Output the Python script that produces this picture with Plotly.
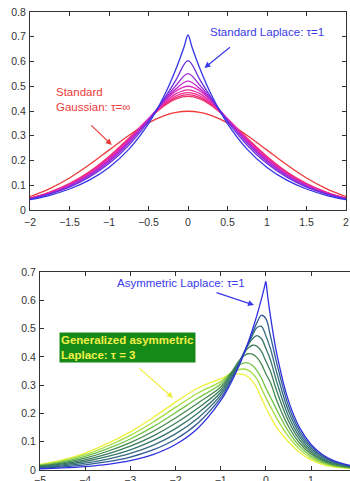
import plotly.graph_objects as go

# ---------------- top panel data (symmetric family, tau = 1 ... 3, inf) ----------------
x_top = [-2, -1.75, -1.5, -1.25, -1, -0.75, -0.5, -0.3, -0.15, 0, 0.15, 0.3, 0.5, 0.75, 1, 1.25, 1.5, 1.75, 2]
x_lap = [-2, -1.75, -1.5, -1.25, -1, -0.75, -0.5, -0.3, -0.15, -0.05, 0, 0.05, 0.15, 0.3, 0.5, 0.75, 1, 1.25, 1.5, 1.75, 2]
y_lap = [0.0418, 0.0595, 0.0848, 0.1207, 0.1719, 0.2448, 0.3487, 0.4626, 0.572, 0.6588, 0.7071, 0.6588, 0.572, 0.4626, 0.3487, 0.2448, 0.1719, 0.1207, 0.0848, 0.0595, 0.0418]
y_t125 = [0.0438, 0.0638, 0.0922, 0.1322, 0.1875, 0.2619, 0.3583, 0.4508, 0.5268, 0.6035, 0.5268, 0.4508, 0.3583, 0.2619, 0.1875, 0.1322, 0.0922, 0.0638, 0.0438]
y_t150 = [0.0448, 0.0659, 0.0960, 0.1380, 0.1954, 0.2705, 0.3632, 0.4448, 0.5038, 0.551, 0.5038, 0.4448, 0.3632, 0.2705, 0.1954, 0.1380, 0.0960, 0.0659, 0.0448]
y_t175 = [0.0454, 0.0672, 0.0981, 0.1414, 0.1999, 0.2755, 0.3660, 0.4413, 0.4904, 0.5205, 0.4904, 0.4413, 0.3660, 0.2755, 0.1999, 0.1414, 0.0981, 0.0672, 0.0454]
y_t200 = [0.0458, 0.0680, 0.0996, 0.1437, 0.2030, 0.2789, 0.3679, 0.4390, 0.4815, 0.5000, 0.4815, 0.4390, 0.3679, 0.2789, 0.2030, 0.1437, 0.0996, 0.0680, 0.0458]
y_t225 = [0.0464, 0.0695, 0.1022, 0.1475, 0.2077, 0.2828, 0.3678, 0.4328, 0.4701, 0.4854, 0.4701, 0.4328, 0.3678, 0.2828, 0.2077, 0.1475, 0.1022, 0.0695, 0.0464]
y_t250 = [0.0469, 0.0705, 0.1041, 0.1503, 0.2112, 0.2857, 0.3678, 0.4282, 0.4615, 0.4745, 0.4615, 0.4282, 0.3678, 0.2857, 0.2112, 0.1503, 0.1041, 0.0705, 0.0469]
y_t275 = [0.0473, 0.0714, 0.1056, 0.1526, 0.2139, 0.2879, 0.3677, 0.4247, 0.4548, 0.4660, 0.4548, 0.4247, 0.3677, 0.2879, 0.2139, 0.1526, 0.1056, 0.0714, 0.0473]
y_t300 = [0.0476, 0.0721, 0.1069, 0.1544, 0.2162, 0.2898, 0.3677, 0.4217, 0.4493, 0.4590, 0.4493, 0.4217, 0.3677, 0.2898, 0.2162, 0.1544, 0.1069, 0.0721, 0.0476]
y_gauss = [0.0540, 0.0863, 0.1295, 0.1826, 0.2420, 0.3011, 0.3521, 0.3814, 0.3945, 0.3989, 0.3945, 0.3814, 0.3521, 0.3011, 0.2420, 0.1826, 0.1295, 0.0863, 0.0540]

top_series = [y_t125, y_t150, y_t175, y_t200, y_t225, y_t250, y_t275, y_t300]
top_colors = ["#6a2ee0", "#9a2ad8", "#c02acc", "#d82abc", "#e42aa8", "#ec2c92", "#f02e7a", "#f03266"]

# ---------------- bottom panel data (asymmetric family, tau = 1 ... 3) ----------------
x_bot = [-5, -4.5, -4, -3.5, -3, -2.5, -2, -1.5, -1, -0.8, -0.6, -0.5, -0.4, -0.3, -0.2, -0.1, 0, 0.1, 0.25, 0.5, 0.75, 1, 1.25, 1.5, 1.87]
x_blue = [-5, -4.5, -4, -3.5, -3, -2.5, -2, -1.5, -1, -0.8, -0.6, -0.5, -0.4, -0.3, -0.2, -0.1, -0.03, 0, 0.03, 0.1, 0.25, 0.5, 0.75, 1, 1.25, 1.5, 1.87]
y_blue = [0.0045, 0.0074, 0.0122, 0.0201, 0.0332, 0.0547, 0.0902, 0.1488, 0.2453, 0.2996, 0.3659, 0.4043, 0.4469, 0.4939, 0.5458, 0.6032, 0.647, 0.6667, 0.6279, 0.5458, 0.4043, 0.2453, 0.1488, 0.0902, 0.0547, 0.0332, 0.0158]
y_a125 = [0.0064, 0.011, 0.0182, 0.0293, 0.0459, 0.071, 0.1089, 0.1665, 0.2549, 0.307, 0.372, 0.41, 0.445, 0.482, 0.52, 0.547, 0.535, 0.475, 0.3719, 0.2272, 0.138, 0.0834, 0.0504, 0.0304, 0.0145]
y_a150 = [0.0084, 0.0146, 0.0242, 0.0386, 0.0587, 0.0873, 0.1277, 0.1841, 0.2645, 0.315, 0.375, 0.41, 0.443, 0.475, 0.503, 0.508, 0.475, 0.43, 0.3395, 0.2091, 0.1271, 0.0766, 0.046, 0.0277, 0.0131]
y_a175 = [0.0103, 0.0181, 0.0301, 0.0478, 0.0714, 0.1036, 0.1464, 0.2018, 0.2741, 0.322, 0.378, 0.41, 0.44, 0.463, 0.475, 0.465, 0.43, 0.39, 0.3072, 0.191, 0.1163, 0.0699, 0.0417, 0.0249, 0.0118]
y_a200 = [0.0123, 0.0217, 0.0361, 0.0571, 0.0841, 0.1199, 0.1651, 0.2194, 0.2837, 0.33, 0.38, 0.408, 0.43, 0.441, 0.438, 0.42, 0.385, 0.35, 0.2748, 0.1729, 0.1054, 0.0631, 0.0373, 0.0221, 0.0104]
y_a225 = [0.0142, 0.0253, 0.0421, 0.0663, 0.0968, 0.1361, 0.1839, 0.2371, 0.2932, 0.335, 0.385, 0.402, 0.411, 0.41, 0.398, 0.375, 0.34, 0.31, 0.2424, 0.1548, 0.0946, 0.0563, 0.033, 0.0193, 0.0091]
y_a250 = [0.0161, 0.0289, 0.0481, 0.0755, 0.1096, 0.1524, 0.2026, 0.2547, 0.3028, 0.34, 0.37, 0.378, 0.379, 0.37, 0.352, 0.325, 0.29, 0.258, 0.21, 0.1367, 0.0837, 0.0495, 0.0287, 0.0165, 0.0077]
y_a275 = [0.0181, 0.0324, 0.054, 0.0848, 0.1223, 0.1687, 0.2213, 0.2724, 0.3124, 0.34, 0.355, 0.357, 0.353, 0.342, 0.322, 0.29, 0.255, 0.225, 0.18, 0.1186, 0.0729, 0.0428, 0.0243, 0.0138, 0.0064]
y_a300 = [0.02, 0.036, 0.06, 0.094, 0.135, 0.185, 0.24, 0.29, 0.322, 0.336, 0.34, 0.338, 0.33, 0.315, 0.29, 0.255, 0.22, 0.19, 0.148, 0.1, 0.062, 0.036, 0.02, 0.011, 0.005]

bot_series = [y_a125, y_a150, y_a175, y_a200, y_a225, y_a250, y_a275, y_a300]
bot_colors = ["#2e5c94", "#356c80", "#37766c", "#3b7c5c", "#468a50", "#72c446", "#a2dc40", "#eef03c"]

top_xticks = [-2, -1.5, -1, -0.5, 0, 0.5, 1, 1.5, 2]
top_xlabels = ["−2", "−1.5", "−1", "−0.5", "0", "0.5", "1", "1.5", "2"]
top_yticks = [0, 0.1, 0.2, 0.3, 0.4, 0.5, 0.6, 0.7, 0.8]
bot_xticks = [-5, -4, -3, -2, -1, 0, 1]
bot_yticks = [0, 0.1, 0.2, 0.3, 0.4, 0.5, 0.6, 0.7]

W, H = 350, 481
fig = go.Figure()
LW = 1.3

# top panel: Gaussian first, Laplace last (on top)
fig.add_trace(go.Scatter(x=x_top, y=y_gauss, mode="lines", line=dict(color="#ec3a3a", width=LW, shape="spline"), xaxis="x", yaxis="y"))
for ys, c in reversed(list(zip(top_series, top_colors))):
    fig.add_trace(go.Scatter(x=x_top, y=ys, mode="lines", line=dict(color=c, width=LW, shape="spline"), xaxis="x", yaxis="y"))
fig.add_trace(go.Scatter(x=x_lap, y=y_lap, mode="lines", line=dict(color="#3434e6", width=LW, shape="spline"), xaxis="x", yaxis="y"))

# bottom panel: yellow first, blue last
for ys, c in reversed(list(zip(bot_series, bot_colors))):
    fig.add_trace(go.Scatter(x=x_bot, y=ys, mode="lines", line=dict(color=c, width=LW, shape="spline"), xaxis="x2", yaxis="y2"))
fig.add_trace(go.Scatter(x=x_blue, y=y_blue, mode="lines", line=dict(color="#3030e0", width=LW, shape="spline"), xaxis="x2", yaxis="y2"))

axfont = dict(family="Liberation Sans, Arial, sans-serif", size=10.5, color="#333333")
common = dict(showgrid=False, zeroline=False, showline=True, linecolor="#333333", linewidth=1,
              ticks="inside", ticklen=4, tickcolor="#333333", tickfont=axfont, fixedrange=True)

fig.update_layout(
    width=W, height=H, margin=dict(l=0, r=0, t=0, b=0),
    paper_bgcolor="white", plot_bgcolor="white", showlegend=False,
    font=dict(family="Liberation Sans, Arial, sans-serif"),
    xaxis=dict(domain=[30 / W, 346 / W], range=[-2, 2], tickvals=top_xticks, ticktext=top_xlabels, anchor="y",
               mirror="allticks", automargin=False, ticklabelstandoff=2, **common),
    yaxis=dict(domain=[1 - 210 / H, 1 - 12 / H], range=[0, 0.8], tickvals=top_yticks, anchor="x",
               mirror="allticks", automargin=False, ticklabelstandoff=1, **common),
    xaxis2=dict(domain=[40 / W, 1], range=[-5, 1.863], tickvals=bot_xticks, anchor="y2",
                mirror="allticks", automargin=False, ticklabelstandoff=0, **common),
    yaxis2=dict(domain=[1 - 470 / H, 1 - 272 / H], range=[0, 0.7], tickvals=bot_yticks, anchor="x2",
                mirror=False, automargin=False, ticklabelstandoff=1, **common),
)

afont = dict(family="Liberation Sans, Arial, sans-serif", size=11.5)
ann = []
# top panel
ann.append(dict(xref="x", yref="y", x=0.259, y=0.719, text="Standard Laplace: τ=1", showarrow=False,
                xanchor="left", yanchor="middle", font=dict(color="#3a3ae8", **afont)))
ann.append(dict(xref="x", yref="y", x=0.208, y=0.574, ax=27, ay=-22, text="", showarrow=True,
                arrowhead=2, arrowsize=1, arrowwidth=1.2, arrowcolor="#3a3ae8"))
ann.append(dict(xref="x", yref="y", x=-1.70, y=0.448, text="Standard<br>Gaussian: τ=∞", showarrow=False,
                xanchor="left", yanchor="middle", align="left", font=dict(color="#ec3a3a", **afont)))
ann.append(dict(xref="x", yref="y", x=-0.965, y=0.263, ax=-22, ay=-21, text="", showarrow=True,
                arrowhead=2, arrowsize=1, arrowwidth=1.2, arrowcolor="#ec3a3a"))
# bottom panel
ann.append(dict(xref="x2", yref="y2", x=-3.33, y=0.661, text="Asymmetric Laplace: τ=1", showarrow=False,
                xanchor="left", yanchor="middle", font=dict(color="#3a3ae8", **afont)))
ann.append(dict(xref="x2", yref="y2", x=-0.262, y=0.583, ax=-39, ay=-13, text="", showarrow=True,
                arrowhead=2, arrowsize=1, arrowwidth=1.2, arrowcolor="#3a3ae8"))
ann.append(dict(xref="x2", yref="y2", x=-3.063, y=0.433,
                text="<b>Generalized asymmetric<br>Laplace: τ = 3</b>", showarrow=False,
                xanchor="center", yanchor="middle", align="left", bgcolor="#168a16", borderpad=1,
                font=dict(color="#f2f04a", family="Liberation Sans, Arial, sans-serif", size=11.5)))
ann.append(dict(xref="x2", yref="y2", x=-2.056, y=0.2545, ax=-35, ay=-31, text="", showarrow=True,
                arrowhead=2, arrowsize=1, arrowwidth=1.2, arrowcolor="#eeee40"))
fig.update_layout(annotations=ann)

fig.write_html("out.html")
